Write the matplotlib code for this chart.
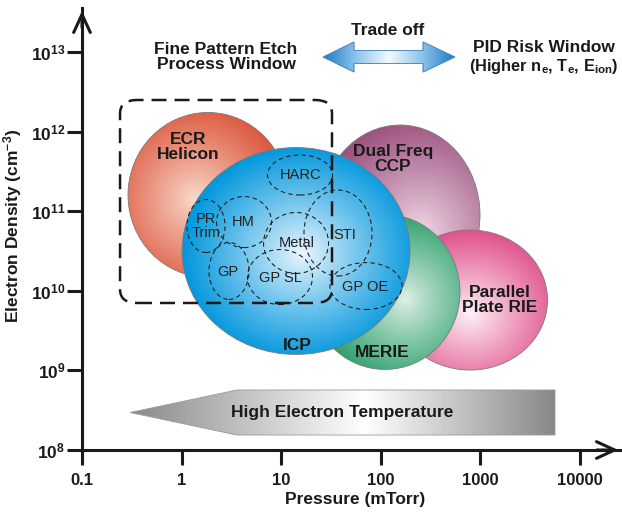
import numpy as np
import matplotlib
matplotlib.use("Agg")
from matplotlib import pyplot as plt
from matplotlib.patches import Ellipse, Polygon, FancyBboxPatch
from matplotlib.colors import LinearSegmentedColormap

plt.rcParams['font.family'] = ['Liberation Sans', 'DejaVu Sans']
plt.rcParams['mathtext.fontset'] = 'custom'
plt.rcParams['mathtext.rm'] = 'Liberation Sans'
plt.rcParams['mathtext.bf'] = 'Liberation Sans:bold'
plt.rcParams['mathtext.it'] = 'Liberation Sans:italic'

# everything is in log10 units: x = log10(pressure / mTorr), y = log10(ne / cm^-3)
x_ticks = [-1, 0, 1, 2, 3, 4]
x_labels = ["0.1", "1", "10", "100", "1000", "10000"]
y_ticks = [8, 9, 10, 11, 12, 13]

# plasma sources, back to front
src_names = ["ECR\nHelicon", "Dual Freq\nCCP", "Parallel\nPlate RIE", "MERIE", "ICP"]
src_x = [0.265, 2.193, 2.896, 2.042, 1.149]
src_y = [11.204, 10.952, 9.884, 9.985, 10.50]
src_w = [1.606, 1.606, 1.556, 1.506, 2.289]
src_h = [2.073, 2.261, 1.759, 1.947, 2.60]
src_lx = [0.064, 2.122, 3.197, 2.012, 1.159]
src_ly = [11.807, 11.656, 9.884, 9.219, 9.319]
# where the light spot sits inside each source (unit-ellipse offsets)
src_hu = [-0.16, 0.25, 0.0, 0.27, 0.05]
src_hv = [-0.06, -0.22, -0.2, -0.10, -0.03]
src_edge = ["#DC553C", "#9B507D", "#E0508C", "#19965F", "#0096DC"]
src_light = ["#FADCCD", "#F3DDEB", "#FFF4F8", "#DFF0E6", "#EEF8FF"]

# etch process windows (dashed)
win_names = ["HARC", "PR\nTrim", "HM", "Metal", "STI", "GP", "GP SL", "GP OE"]
win_x = [1.189, 0.245, 0.627, 1.149, 1.570, 0.476, 0.988, 1.851]
win_y = [11.455, 10.814, 10.864, 10.601, 10.726, 10.249, 10.173, 10.060]
win_w = [0.653, 0.382, 0.552, 0.653, 0.683, 0.402, 0.653, 0.723]
win_h = [0.503, 0.666, 0.641, 0.766, 1.080, 0.716, 0.691, 0.590]
win_lx = [1.189, 0.245, 0.622, 1.155, 1.641, 0.466, 0.988, 1.841]
win_ly = [11.450, 10.814, 10.864, 10.601, 10.700, 10.230, 10.160, 10.050]

# fine pattern etch window box
box_x = [-0.618, 1.510]
box_y = [9.847, 12.397]

# trade-off double arrow: tips, head ends, centre height, half heights
trade_x = [1.420, 1.731, 2.424, 2.745]
trade_y = 12.937
trade_head = 0.189
trade_shaft = 0.082

# electron temperature arrow: tip, head end, tail; centre and half height
temp_x = [-0.518, 0.556, 3.749]
temp_y = 8.471
temp_half = 0.283

fig = plt.figure(figsize=(6.22, 5.13), dpi=100)
ax = fig.add_axes([82 / 622, 63 / 513, 539 / 622, 442 / 513])


def shade(patch, extent, field, colors, z):
    cmap = LinearSegmentedColormap.from_list("g", colors)
    ax.add_patch(patch)
    im = ax.imshow(field, extent=extent, origin="lower", cmap=cmap, vmin=0, vmax=1,
                   aspect="auto", interpolation="bilinear", zorder=z)
    im.set_clip_path(patch)


n = 300
uu, vv = np.meshgrid(np.linspace(-1, 1, n), np.linspace(-1, 1, n))
for i in range(len(src_names)):
    hu, hv = src_hu[i], src_hv[i]
    r = np.hypot(uu - hu, vv - hv) / (1 + np.hypot(hu, hv))
    t = np.clip(r, 0, 1) ** 0.9
    e = Ellipse((src_x[i], src_y[i]), src_w[i], src_h[i], facecolor="none",
                edgecolor="#7a7a7a", lw=0.6, zorder=i + 1.1)
    ext = [src_x[i] - src_w[i] / 2, src_x[i] + src_w[i] / 2,
           src_y[i] - src_h[i] / 2, src_y[i] + src_h[i] / 2]
    shade(e, ext, t, [src_light[i], src_edge[i]], i + 1)
    ax.text(src_lx[i], src_ly[i], src_names[i], ha="center", va="center",
            fontsize=12.5, fontweight="bold", color="#1a1a1a", linespacing=1.0, zorder=10)

for i in range(len(win_names)):
    ax.add_patch(Ellipse((win_x[i], win_y[i]), win_w[i], win_h[i], facecolor="none",
                         edgecolor="#222222", lw=0.8, linestyle=(0, (4, 3)), zorder=7))
    ax.text(win_lx[i], win_ly[i], win_names[i], ha="center", va="center",
            fontsize=10.5, color="#222222", linespacing=0.95, zorder=9)

ax.add_patch(FancyBboxPatch((box_x[0], box_y[0]), box_x[1] - box_x[0], box_y[1] - box_y[0],
                            boxstyle="round,pad=0,rounding_size=0.17", facecolor="none",
                            edgecolor="#1a1a1a", lw=1.8, linestyle=(0, (6, 3.2)), zorder=8))

# trade off arrow
a, b, c, d = trade_x
yc, hh, hs = trade_y, trade_head, trade_shaft
arrow = Polygon([(a, yc), (b, yc + hh), (b, yc + hs), (c, yc + hs), (c, yc + hh), (d, yc),
                 (c, yc - hh), (c, yc - hs), (b, yc - hs), (b, yc - hh)], closed=True,
                facecolor="none", edgecolor="#4a86c0", lw=0.5, zorder=6)
xs = np.linspace(0, 1, n)
field = np.tile(np.abs(xs - 0.5) * 2, (20, 1))
shade(arrow, [a, d, yc - hh, yc + hh], field, ["#F2F9FE", "#8EC4EA", "#1C7CC5"], 5)
ax.add_patch(Polygon(arrow.get_xy(), closed=True, facecolor="none", edgecolor="#4a86c0",
                     lw=0.5, zorder=6))

# electron temperature arrow
p, q, s = temp_x
temp = Polygon([(p, temp_y), (q, temp_y + temp_half), (s, temp_y + temp_half),
                (s, temp_y - temp_half), (q, temp_y - temp_half)], closed=True,
               facecolor="none", edgecolor="#9a9a9a", lw=0.6, zorder=5)
white_at = (1.841 - p) / (s - p)
cmap_t = LinearSegmentedColormap.from_list("t", [(0, "#8a8a8a"), (white_at, "#ffffff"), (1, "#888888")])
field = np.tile(xs, (20, 1))
ax.add_patch(temp)
im = ax.imshow(field, extent=[p, s, temp_y - temp_half, temp_y + temp_half], origin="lower",
               cmap=cmap_t, vmin=0, vmax=1, aspect="auto", zorder=4)
im.set_clip_path(temp)
ax.text(1.610, temp_y, "High Electron Temperature", ha="center", va="center",
        fontsize=12.5, fontweight="bold", color="#1a1a1a", zorder=10)

# headings
ax.text(0.446, 12.937, "Fine Pattern Etch\nProcess Window", ha="center", va="center",
        fontsize=12.5, fontweight="bold", color="#1a1a1a", linespacing=1.05)
ax.text(2.072, 13.276, "Trade off", ha="center", va="center",
        fontsize=12.5, fontweight="bold", color="#1a1a1a")
ax.text(3.639, 13.062, "PID Risk Window", ha="center", va="center",
        fontsize=12.5, fontweight="bold", color="#1a1a1a")
ax.text(3.639, 12.812, "(Higher n$_\\mathbf{e}$, T$_\\mathbf{e}$, E$_\\mathbf{ion}$)",
        ha="center", va="center", fontsize=11.8, fontweight="bold", color="#1a1a1a")

ax.set_xlim(-1, -1 + 539 / 99.6)
ax.set_ylim(8, 8 + 442 / 79.6)

for side in ["top", "right"]:
    ax.spines[side].set_visible(False)
for side in ["left", "bottom"]:
    ax.spines[side].set_linewidth(2.2)
    ax.spines[side].set_color("#1a1a1a")

ax.set_xticks(x_ticks)
ax.set_xticklabels(x_labels, fontweight="bold", fontsize=12)
ax.set_yticks(y_ticks)
ax.set_yticklabels([r"$\mathbf{10^{%d}}$" % v for v in y_ticks], fontsize=12.5)
ax.tick_params(axis="both", direction="out", length=10.5, width=2.2, color="#1a1a1a",
               labelcolor="#1a1a1a")
ax.tick_params(axis="x", pad=6)
ax.tick_params(axis="y", pad=1.5)

ax.set_xlabel("Pressure (mTorr)", fontsize=12.5, fontweight="bold", color="#1a1a1a")
ax.xaxis.set_label_coords(0.506, -0.095)
ax.set_ylabel("Electron Density (cm$^{\\mathbf{-3}}$)", fontsize=12.5, fontweight="bold",
              color="#1a1a1a")
ax.yaxis.set_label_coords(-0.108, 0.507)

# open arrow heads at the ends of both axes
arrow_style = "->,head_length=0.65,head_width=0.3"
ax.annotate("", xy=(0, 1), xytext=(0, 0.95), xycoords="axes fraction",
            arrowprops=dict(arrowstyle=arrow_style, lw=2.2, color="#1a1a1a", mutation_scale=20))
ax.annotate("", xy=(1, 0), xytext=(0.95, 0), xycoords="axes fraction",
            arrowprops=dict(arrowstyle=arrow_style, lw=2.2, color="#1a1a1a", mutation_scale=20))

fig.savefig("out.png", dpi=100)
